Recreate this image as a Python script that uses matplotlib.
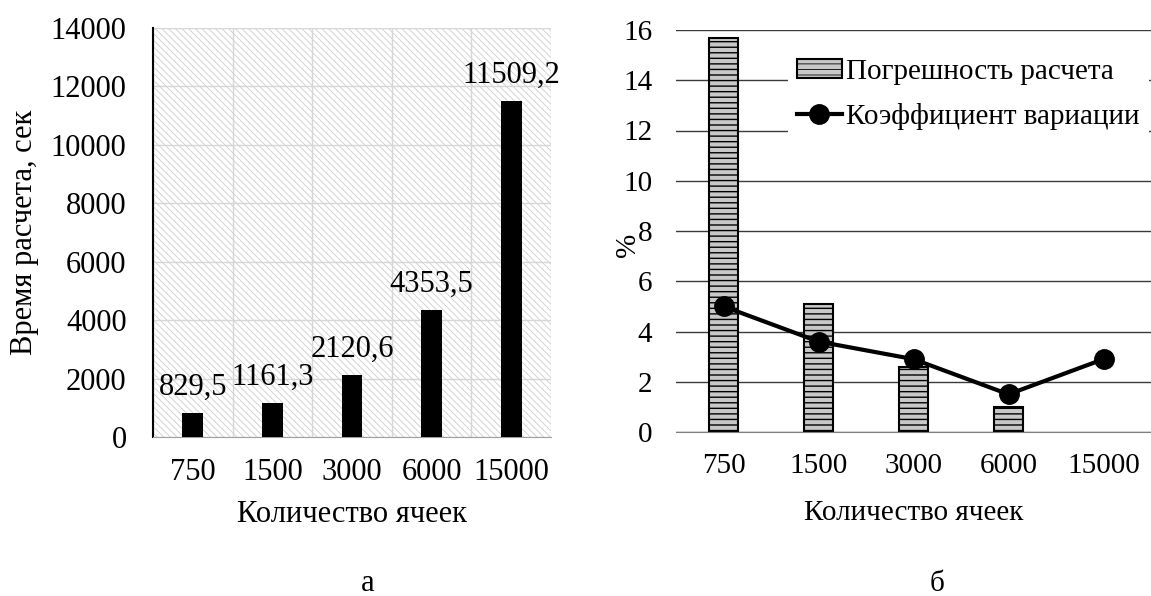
import numpy as np
import matplotlib
matplotlib.use('Agg')
import matplotlib.pyplot as plt
from matplotlib.patches import Rectangle

plt.rcParams['font.family'] = ['Liberation Serif', 'DejaVu Serif']
plt.rcParams['font.size'] = 22
plt.rcParams['hatch.linewidth'] = 0.6

# data
cells = ['750', '1500', '3000', '6000', '15000']
calc_time = [829.5, 1161.3, 2120.6, 4353.5, 11509.2]
calc_error = [15.7, 5.1, 2.6, 1.0, np.nan]   # no bar for 15000
variation = [5.0, 3.6, 2.9, 1.5, 2.9]

W, H = 1151, 596
FS1 = 22   # left chart text
FS2 = 21   # right chart text
fig = plt.figure(figsize=(W / 100, H / 100), dpi=100)

# ---- left chart (a) ----
ax1 = fig.add_axes([153 / W, 1 - 437 / H, 398 / W, 409 / H])
x = np.arange(len(cells))
ax1.add_patch(Rectangle((0, 0), 1, 1, transform=ax1.transAxes, facecolor='white',
                        edgecolor='#cdcdcd', hatch='\\\\\\\\\\', lw=0, zorder=0))
ax1.bar(x, calc_time, width=0.26, color='black', zorder=3)
for xi, v in zip(x, calc_time):
    ax1.annotate(f'{v:.1f}'.replace('.', ','), (xi, v), xytext=(0, 8),
                 textcoords='offset points', ha='center', va='bottom', fontsize=FS1)
ax1.set_xlim(-0.5, 4.5)
ax1.set_ylim(0, 14000)
ax1.set_yticks(np.arange(0, 14001, 2000))
ax1.set_xticks(x)
ax1.set_xticklabels(cells)
ax1.set_xticks(np.arange(-0.5, 5, 1), minor=True)
ax1.grid(True, axis='y', color='#d6d6d6', lw=1, zorder=1)
ax1.grid(True, axis='x', which='minor', color='#d6d6d6', lw=1, zorder=1)
ax1.set_axisbelow(True)
ax1.tick_params(which='both', length=0, labelsize=FS1)
ax1.tick_params(axis='x', pad=15)
ax1.tick_params(axis='y', pad=19)
for s in ['top', 'right']:
    ax1.spines[s].set_visible(False)
ax1.spines['left'].set_color('black')
ax1.spines['left'].set_linewidth(1.5)
ax1.spines['bottom'].set_color('#a0a0a0')
ax1.set_ylabel('Время расчета, сек', fontsize=FS1)
ax1.yaxis.set_label_coords((25 - 153) / 398, 0.5)
ax1.yaxis.label.set_va('center')
ax1.set_xlabel('Количество ячеек', fontsize=FS1)
ax1.xaxis.set_label_coords(0.5, (437 - 514) / 409)
ax1.xaxis.label.set_va('center')

# ---- right chart (б) ----
ax2 = fig.add_axes([676 / W, 1 - 432 / H, 475 / W, 402 / H])
bars = ax2.bar(x, calc_error, width=0.31, color='#c8c8c8', edgecolor='black',
               lw=1.5, hatch='---', label='Погрешность расчета', zorder=2)
for b in bars:
    if hasattr(b, 'set_hatch_linewidth'):
        b.set_hatch_linewidth(1.0)
line, = ax2.plot(x, variation, color='black', lw=3, marker='o', markersize=14,
                 label='Коэффициент вариации', zorder=3)
ax2.set_xlim(-0.5, 4.5)
ax2.set_ylim(0, 16)
ax2.set_yticks(np.arange(0, 17, 2))
ax2.set_xticks(x)
ax2.set_xticklabels(cells)
ax2.grid(True, axis='y', color='#3a3a3a', lw=1, zorder=0)
ax2.set_axisbelow(True)
ax2.tick_params(length=0, labelsize=FS2)
ax2.tick_params(axis='x', pad=15)
ax2.tick_params(axis='y', pad=17)
for s in ['top', 'right', 'left']:
    ax2.spines[s].set_visible(False)
ax2.spines['bottom'].set_color('#808080')
ax2.set_ylabel('%', fontsize=FS2)
ax2.yaxis.set_label_coords((628 - 676) / 475, (432 - 245) / 402)
ax2.yaxis.label.set_va('center')
ax2.set_xlabel('Количество ячеек', fontsize=FS2)
ax2.xaxis.set_label_coords(0.5, (432 - 513) / 402)
ax2.xaxis.label.set_va('center')
leg = ax2.legend([bars, line], ['Погрешность расчета', 'Коэффициент вариации'],
                 loc='upper left', bbox_to_anchor=((788 - 676) / 475, (432 - 50) / 402),
                 frameon=True, facecolor='white', edgecolor='none', framealpha=1,
                 fancybox=False, fontsize=FS2, handlelength=1.55, handleheight=0.6,
                 handletextpad=0.15, labelspacing=0.62, borderpad=0.3, borderaxespad=0)
leg.set_zorder(5)

fig.text(368 / W, 1 - 591 / H, 'а', ha='center', va='baseline', fontsize=FS1)
fig.text(937 / W, 1 - 591 / H, 'б', ha='center', va='baseline', fontsize=FS2)

fig.savefig('out.png', dpi=100)
